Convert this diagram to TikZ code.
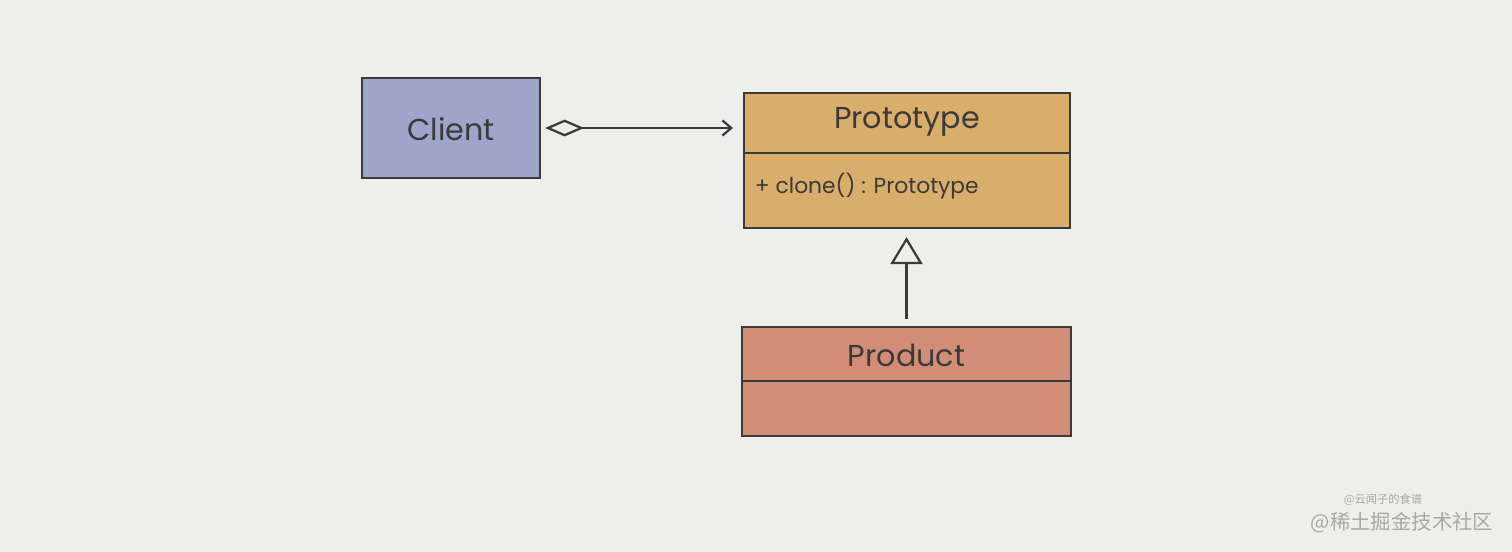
\documentclass[tikz,border=0pt]{standalone}
\usepackage{fontspec}
\setmainfont{Poppins}
\newfontfamily\cjk{Noto Sans CJK SC}
\usepackage{xcolor}
\usetikzlibrary{arrows.meta}
\definecolor{paper}{HTML}{EEEEEA}
\definecolor{ink}{HTML}{3A3A3A}
\definecolor{clientblue}{HTML}{9FA4CB}
\definecolor{protoorange}{HTML}{D9AE6B}
\definecolor{productred}{HTML}{D28D78}
\definecolor{markgray}{HTML}{A8A8A8}

\begin{document}
\begin{tikzpicture}
[x=0.025cm,y=-0.025cm,
box/.style={draw=ink,line width=1.5pt,inner sep=0pt,text=ink},
title/.style={text=ink,font=\fontsize{21.5}{25}\selectfont},
member/.style={text=ink,font=\fontsize{15.5}{18}\selectfont,anchor=west},
link/.style={draw=ink,line width=1.6pt},
watermark/.style={text=markgray}]
\fill[paper] (0,0) rectangle (1512,552);
\useasboundingbox (0,0) rectangle (1512,552);
\node[box,fill=clientblue,minimum width=4.45cm,minimum height=2.5cm] (client) at (451,128) {};
\node[box,fill=protoorange,minimum width=8.15cm,minimum height=3.375cm] (proto) at (907,160.5) {};
\node[box,fill=productred,minimum width=8.225cm,minimum height=2.725cm] (product) at (906.5,381.5) {};
\node[title] (clientname) at (451,129) {Client};
\node[title] (protoname) at (907,122) {Prototype};
\node[member] (clone) at (750,186) {+ clone() : Prototype};
\node[title] (productname) at (906.5,355) {Product};
% compartments
\draw[link] (proto.west |- 0,153) -- (proto.east |- 0,153);
\draw[link] (product.west |- 0,381) -- (product.east |- 0,381);
% relations
\draw[link,{Diamond[open,length=0.975cm,width=0.42cm]}-{Straight Barb[length=0.22cm,width=0.38cm]},
  shorten <=0.1cm,shorten >=0.25cm] (client.east) -- (client.east -| proto.west);
\draw[link,-{Triangle[open,length=0.675cm,width=0.8cm]},shorten <=0.18cm,shorten >=0.2cm]
  (product.north) -- (product.north |- proto.south);
% watermark
\node[watermark,font=\cjk\fontsize{8}{9}\selectfont] (author) at (1383,500) {@云闻子的食谱};
\node[watermark,font=\cjk\fontsize{14.5}{16}\selectfont] (site) at (1402,523) {@稀土掘金技术社区};
\end{tikzpicture}
\end{document}
